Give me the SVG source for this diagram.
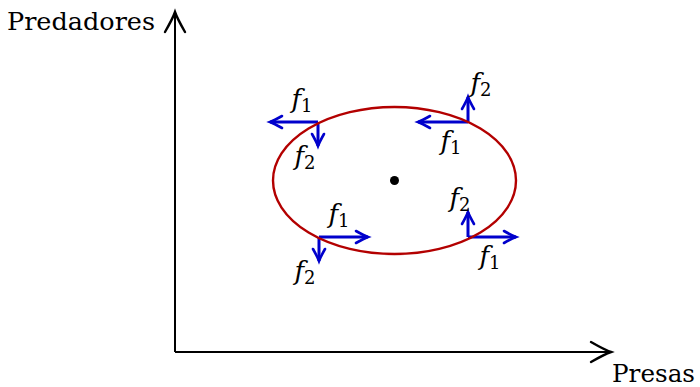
<svg xmlns="http://www.w3.org/2000/svg" width="700" height="387" viewBox="0 0 700 387">
<defs>
<style>
.axis{stroke:#000;stroke-width:2;fill:none}
.f{stroke:#0000cc;stroke-width:3;fill:none;marker-end:url(#bh)}
.lbl{font-family:"DejaVu Serif","Liberation Serif",serif;font-size:25px;fill:#000}
.fl{font-family:"DejaVu Serif","Liberation Serif",serif;font-style:italic;font-size:26px;fill:#000;text-anchor:middle}
.sub{font-style:normal;font-size:18px}
</style>
<marker id="bh" markerUnits="userSpaceOnUse" markerWidth="30" markerHeight="30" viewBox="-15 -15 30 30" refX="0" refY="0" orient="auto">
<path d="M-12,-6 Q-4,-1.5 0,0 Q-4,1.5 -12,6" fill="none" stroke="#0000cc" stroke-width="2.6" stroke-linecap="round"/>
</marker>
<marker id="ah" markerUnits="userSpaceOnUse" markerWidth="40" markerHeight="40" viewBox="-25 -20 40 40" refX="0" refY="0" orient="auto">
<path d="M-20,-10 Q-6,-2 0,0 Q-6,2 -20,10" fill="none" stroke="#000" stroke-width="2.4" stroke-linecap="round"/>
</marker>
</defs>
<g id="connectors">
<line class="axis" x1="175" y1="352" x2="175" y2="12" marker-end="url(#ah)"/>
<line class="axis" x1="175" y1="352" x2="611" y2="352" marker-end="url(#ah)"/>
<line class="f" x1="318" y1="122" x2="270" y2="122"/>
<line class="f" x1="318" y1="122" x2="318" y2="146"/>
<line class="f" x1="468" y1="122" x2="418" y2="122"/>
<line class="f" x1="468" y1="122" x2="468" y2="97"/>
<line class="f" x1="319" y1="237" x2="368" y2="237"/>
<line class="f" x1="319" y1="237" x2="319" y2="261"/>
<line class="f" x1="468" y1="237" x2="516" y2="237"/>
<line class="f" x1="468" y1="237" x2="468" y2="212"/>
</g>
<g id="orbit">
<ellipse cx="394.5" cy="180.5" rx="121.5" ry="73.5" fill="none" stroke="#b30000" stroke-width="2.4"/>
</g>
<g id="equilibrium">
<circle cx="394.5" cy="180.5" r="4.5" fill="#000"/>
</g>
<g id="axis-labels">
<text class="lbl" x="7" y="30" textLength="148" lengthAdjust="spacingAndGlyphs">Predadores</text>
<text class="lbl" x="612" y="382" textLength="83" lengthAdjust="spacingAndGlyphs">Presas</text>
</g>
<g id="labels">
<text class="fl" x="302" y="108">f<tspan class="sub" dy="4">1</tspan></text>
<text class="fl" x="305" y="165">f<tspan class="sub" dy="4">2</tspan></text>
<text class="fl" x="481" y="92">f<tspan class="sub" dy="4">2</tspan></text>
<text class="fl" x="451" y="150">f<tspan class="sub" dy="4">1</tspan></text>
<text class="fl" x="339" y="223">f<tspan class="sub" dy="4">1</tspan></text>
<text class="fl" x="305" y="280">f<tspan class="sub" dy="4">2</tspan></text>
<text class="fl" x="460" y="207">f<tspan class="sub" dy="4">2</tspan></text>
<text class="fl" x="490" y="265">f<tspan class="sub" dy="4">1</tspan></text>
</g>
</svg>
